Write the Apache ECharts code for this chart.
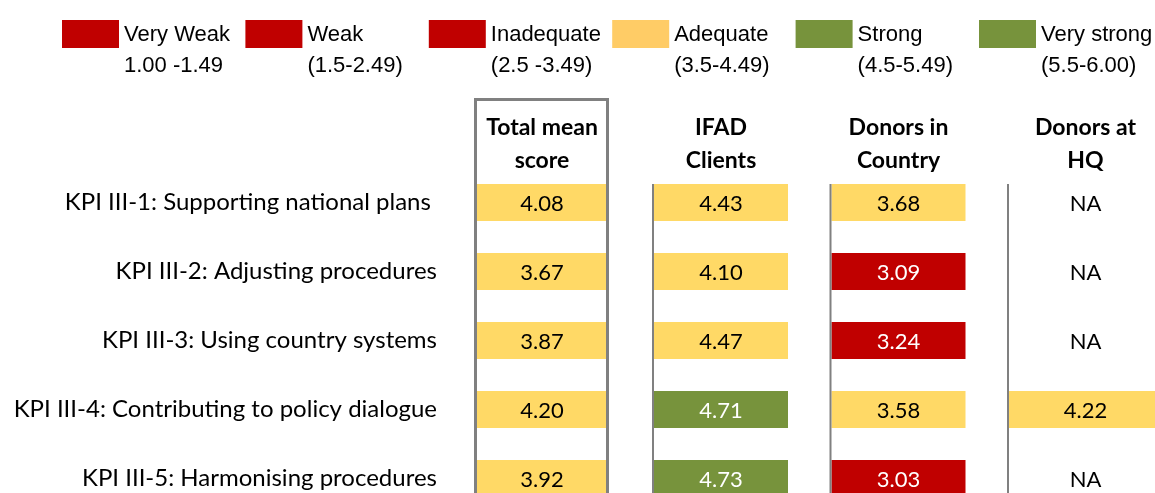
<!DOCTYPE html>
<html><head><meta charset="utf-8">
<script src="https://cdn.jsdelivr.net/npm/echarts@6/dist/echarts.min.js"></script>
<style>html,body{margin:0;padding:0;background:#fff}#main{width:1155px;height:493px}</style>
</head><body><div id="main"></div>
<script>
// ---------- DATA ----------
const rowLabels = [
  'KPI III-1: Supporting national plans ',
  'KPI III-2: Adjusting procedures',
  'KPI III-3: Using country systems',
  'KPI III-4: Contributing to policy dialogue',
  'KPI III-5: Harmonising procedures'
];
const columnHeaders = ['Total mean\nscore', 'IFAD\nClients', 'Donors in\nCountry', 'Donors at\nHQ'];
const totalMeanScore  = [4.08, 3.67, 3.87, 4.20, 3.92];
const ifadClients     = [4.43, 4.10, 4.47, 4.71, 4.73];
const donorsInCountry = [3.68, 3.09, 3.24, 3.58, 3.03];
const donorsAtHQ      = [null, null, null, 4.22, null];
const ratingNames  = ['Very Weak', 'Weak', 'Inadequate', 'Adequate', 'Strong', 'Very strong'];
const ratingRanges = ['1.00 -1.49', '(1.5-2.49)', '(2.5 -3.49)', '(3.5-4.49)', '(4.5-5.49)', '(5.5-6.00)'];
const ratingUpper  = [1.5, 2.5, 3.5, 4.5, 5.5, 6.01];
const naText = 'NA';

// ---------- STYLE ----------
const cellColors   = ['#C00000', '#C00000', '#C00000', '#FFD966', '#77933C', '#77933C'];
const legendColors = ['#C00000', '#C00000', '#C00000', '#FFCC66', '#77933C', '#77933C'];
const cellTextColors = ['#FFFFFF', '#FFFFFF', '#FFFFFF', '#000000', '#FFFFFF', '#FFFFFF'];
const CELL_WIDTHS = [131, 134, 134, 153];
const CELL_OFFSET = 1;
const CELL_HEIGHT = 37;
const GREY = '#808080';
const BODY_FONT = 'Lato';

const columns = [totalMeanScore, ifadClients, donorsInCountry, donorsAtHQ];

function ratingIndex(v) {
  for (let i = 0; i < ratingUpper.length; i++) if (v < ratingUpper[i]) return i;
  return ratingUpper.length - 1;
}

const cellData = [];
columns.forEach((col, c) => col.forEach((v, r) => cellData.push([c, r, v === null ? 0 : v])));
const columnData = columnHeaders.map((h, c) => [c, 0]);

const legendSeries = ratingNames.map((n, i) => ({
  name: n, type: 'bar', data: [], itemStyle: { color: legendColors[i] }
}));

const chart = echarts.init(document.getElementById('main'), null, { renderer: 'canvas' });
chart.setOption({
  animation: false,
  backgroundColor: '#ffffff',
  legend: {
    left: 62, top: -2, width: 1150, padding: 0,
    itemWidth: 57, itemHeight: 28, itemGap: 0.4, icon: 'rect', selectedMode: false,
    data: ratingNames,
    formatter: name => '{p| }\n{a|' + name + '}\n{a|' + ratingRanges[ratingNames.indexOf(name)] + '}',
    textStyle: {
      rich: {
        p: { fontSize: 10, lineHeight: 33, width: 121 },
        a: { fontSize: 22, lineHeight: 31, width: 121, fontFamily: 'Liberation Sans', color: '#000' }
      }
    }
  },
  grid: { left: 475.5, top: 168, width: 710, height: 345, containLabel: false, outerBoundsMode: 'none' },
  xAxis: { type: 'value', min: 0, max: 4, show: false },
  yAxis: {
    type: 'category', data: rowLabels, inverse: true,
    axisLine: { show: false }, axisTick: { show: false }, splitLine: { show: false },
    axisLabel: { margin: 38.5, fontSize: 24, fontFamily: BODY_FONT, color: '#000' }
  },
  series: [
    ...legendSeries,
    {
      type: 'custom', name: 'cells', clip: false, z: 2,
      data: cellData,
      renderItem: function (params, api) {
        const c = api.value(0), r = api.value(1);
        const v = columns[c][r];
        const p = api.coord([c, r]);
        const x0 = p[0] + CELL_OFFSET, w = CELL_WIDTHS[c];
        const children = [];
        let fill = '#000';
        if (v !== null) {
          const k = ratingIndex(v);
          fill = cellTextColors[k];
          children.push({ type: 'rect', shape: { x: x0, y: p[1] - CELL_HEIGHT / 2, width: w, height: CELL_HEIGHT },
            style: { fill: cellColors[k] } });
        }
        children.push({ type: 'text', style: {
          text: v === null ? naText : v.toFixed(2), x: x0 + w / 2, y: p[1] + 1,
          align: 'center', verticalAlign: 'middle', fill: fill,
          font: '22px ' + BODY_FONT } });
        return { type: 'group', children: children };
      }
    },
    {
      type: 'custom', name: 'columns', clip: false, z: 3,
      data: columnData,
      renderItem: function (params, api) {
        const c = api.value(0);
        const p = api.coord([c, 0]);
        const rowTop = p[1] - CELL_HEIGHT / 2;
        const x0 = p[0] + CELL_OFFSET, w = CELL_WIDTHS[c];
        const children = [];
        if (c === 0) {
          children.push({ type: 'rect', shape: { x: p[0], y: rowTop - 84.5, width: w + 1, height: 460 },
            style: { fill: 'none', stroke: GREY, lineWidth: 3 } });
        } else {
          children.push({ type: 'line', shape: { x1: p[0], y1: rowTop, x2: p[0], y2: rowTop + 400 },
            style: { stroke: GREY, lineWidth: 2 } });
        }
        children.push({ type: 'text', style: {
          text: columnHeaders[c], x: x0 + w / 2, y: rowTop - 39.5,
          align: 'center', verticalAlign: 'middle', fill: '#000', lineHeight: 33,
          font: 'bold 23px ' + BODY_FONT } });
        return { type: 'group', children: children };
      }
    }
  ]
});
</script></body></html>
